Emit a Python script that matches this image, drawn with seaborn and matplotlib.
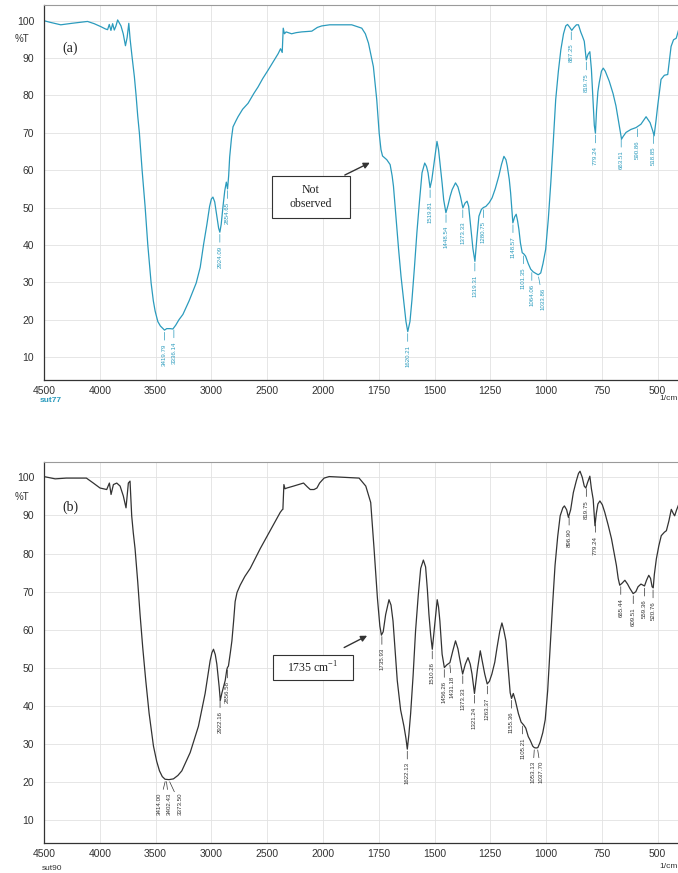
import numpy as np
import matplotlib
matplotlib.use("Agg")
import matplotlib.pyplot as plt
import seaborn as sns
from matplotlib.patches import Rectangle

# ---- spectrum (a): sut77, wavenumber (1/cm) and %T
wn_a = [4500, 4450, 4350, 4250, 4110, 4050, 3990, 3950, 3930, 3915,
        3900, 3885, 3870, 3855, 3840, 3825, 3810, 3790, 3770, 3755,
        3740, 3728, 3711, 3690, 3675, 3660, 3645, 3621, 3594, 3570,
        3540, 3520, 3504, 3480, 3457, 3420, 3400, 3370, 3345, 3320,
        3290, 3255, 3200, 3136, 3100, 3070, 3040, 3016, 3000, 2986,
        2970, 2950, 2935, 2924, 2912, 2895, 2880, 2866, 2855, 2845,
        2836, 2820, 2806, 2780, 2761, 2720, 2671, 2620, 2581, 2540,
        2491, 2440, 2401, 2380, 2365, 2356, 2345, 2330, 2281, 2240,
        2191, 2100, 2050, 2011, 1970, 1900, 1871, 1826, 1810, 1796,
        1774, 1759, 1748, 1740, 1733, 1714, 1699, 1690, 1684, 1672,
        1661, 1650, 1639, 1628, 1620, 1610, 1601, 1590, 1579, 1567,
        1556, 1544, 1536, 1529, 1520, 1512, 1504, 1495, 1489, 1482,
        1474, 1466, 1459, 1449, 1440, 1430, 1421, 1406, 1395, 1384,
        1373, 1363, 1354, 1347, 1338, 1328, 1319, 1310, 1301, 1290,
        1281, 1270, 1255, 1242, 1228, 1212, 1200, 1189, 1180, 1174,
        1165, 1159, 1149, 1141, 1134, 1128, 1122, 1115, 1107, 1100,
        1092, 1080, 1069, 1058, 1047, 1035, 1024, 1014, 1002, 990,
        979, 968, 957, 945, 934, 922, 912, 904, 895, 885,
        875, 864, 855, 845, 837, 829, 820, 812, 804, 797,
        790, 784, 779, 774, 768, 762, 752, 744, 735, 717,
        700, 687, 669, 662, 655, 642, 620, 597, 575, 552,
        534, 522, 516, 508, 500, 485, 470, 455, 440, 429,
        417, 402]
t_a = [100.0, 99.6, 98.9, 99.3, 99.8, 99.2, 98.4, 97.8, 97.6, 99.0,
       97.4, 99.2, 97.5, 98.6, 100.2, 99.4, 98.6, 96.5, 93.3, 95.5,
       99.3, 95.0, 90.4, 85.0, 80.1, 74.5, 69.9, 60.1, 50.3, 40.1,
       29.8, 25.0, 22.3, 19.5, 18.3, 17.2, 17.6, 17.6, 17.5, 18.5,
       20.0, 21.4, 25.0, 29.8, 34.0, 40.1, 45.5, 50.3, 52.3, 52.8,
       51.5, 47.5, 44.5, 43.4, 45.5, 50.5, 54.5, 56.8, 55.0, 58.5,
       63.5, 68.5, 71.6, 73.2, 74.3, 76.3, 77.9, 80.5, 82.3, 84.5,
       86.8, 89.3, 91.2, 92.5, 91.5, 98.0, 96.5, 97.0, 96.5, 96.8,
       97.0, 97.2, 98.2, 98.6, 98.9, 98.9, 98.9, 98.0, 96.5, 94.0,
       87.7, 78.9, 69.9, 65.5, 63.8, 62.8, 61.5, 58.5, 55.7, 47.0,
       38.8, 31.5, 25.4, 19.5, 16.8, 19.5, 25.4, 34.0, 43.3, 52.0,
       59.3, 61.9, 61.0, 59.3, 55.3, 57.5, 61.1, 65.0, 67.7, 65.5,
       61.1, 56.5, 52.1, 48.6, 50.5, 53.0, 54.8, 56.6, 55.5, 53.0,
       49.9, 51.2, 51.7, 50.3, 45.0, 39.0, 35.6, 42.0, 47.7, 49.5,
       50.0, 50.3, 51.3, 52.6, 55.0, 58.4, 61.5, 63.7, 62.8, 61.1,
       57.5, 53.9, 45.9, 47.5, 48.2, 46.5, 44.2, 40.5, 37.9, 37.6,
       37.0, 35.0, 33.5, 32.8, 32.4, 32.0, 32.5, 35.0, 38.8, 47.0,
       56.6, 67.5, 78.9, 86.5, 92.2, 96.5, 98.6, 99.0, 98.3, 97.4,
       98.2, 98.9, 98.9, 97.0, 95.8, 94.5, 89.5, 91.0, 91.7, 87.0,
       79.0, 72.0, 69.9, 76.0, 81.0, 83.4, 86.5, 87.3, 86.5, 83.8,
       80.5, 77.2, 70.9, 68.3, 69.0, 70.1, 70.9, 71.4, 72.3, 74.3,
       72.7, 70.5, 69.2, 73.0, 77.2, 84.3, 85.4, 85.6, 93.1, 94.9,
       95.3, 98.4]

# ---- spectrum (b): sut90
wn_b = [4500, 4400, 4300, 4120, 4058, 3998, 3938, 3914, 3899, 3878,
        3848, 3818, 3789, 3765, 3744, 3729, 3714, 3700, 3684, 3660,
        3639, 3615, 3588, 3558, 3519, 3490, 3465, 3440, 3415, 3380,
        3340, 3300, 3265, 3190, 3116, 3056, 3011, 2995, 2981, 2965,
        2951, 2930, 2920, 2905, 2876, 2862, 2856, 2847, 2830, 2816,
        2800, 2787, 2770, 2742, 2700, 2652, 2562, 2473, 2383, 2365,
        2359, 2350, 2340, 2323, 2264, 2174, 2140, 2114, 2080, 2054,
        2030, 1995, 1972, 1838, 1808, 1786, 1771, 1756, 1745, 1738,
        1730, 1719, 1704, 1695, 1686, 1676, 1667, 1652, 1637, 1628,
        1622, 1615, 1607, 1596, 1585, 1573, 1562, 1550, 1540, 1532,
        1525, 1517, 1510, 1504, 1498, 1488, 1482, 1476, 1466, 1456,
        1445, 1431, 1418, 1406, 1395, 1388, 1374, 1362, 1350, 1340,
        1332, 1321, 1308, 1295, 1285, 1275, 1264, 1254, 1243, 1230,
        1220, 1208, 1198, 1190, 1180, 1170, 1161, 1155, 1147, 1138,
        1124, 1112, 1100, 1091, 1080, 1071, 1060, 1053, 1045, 1037,
        1027, 1015, 1004, 993, 982, 971, 960, 948, 937, 925,
        918, 908, 900, 890, 878, 865, 855, 848, 838, 829,
        822, 815, 804, 797, 789, 781, 775, 768, 759, 748,
        737, 722, 707, 695, 685, 677, 670, 660, 647, 635,
        625, 610, 598, 588, 575, 565, 559, 550, 540, 532,
        525, 520, 515, 506, 495, 484, 470, 461, 450, 439,
        430, 424, 415, 405]
t_b = [100.2, 99.6, 99.8, 99.8, 98.5, 97.2, 96.8, 98.5, 95.5, 98.1,
       98.5, 97.7, 95.1, 92.0, 98.5, 99.0, 89.9, 85.5, 81.3, 72.6,
       64.0, 55.3, 46.7, 38.1, 29.5, 25.5, 23.0, 21.5, 20.8, 20.7,
       20.9, 21.8, 23.0, 27.8, 34.7, 43.3, 51.9, 54.0, 54.9, 53.5,
       51.0, 45.0, 41.5, 43.5, 46.7, 49.5, 50.1, 50.5, 54.0, 57.1,
       62.5, 67.4, 69.8, 71.7, 74.0, 76.1, 81.3, 86.0, 90.8, 91.5,
       91.6, 98.1, 97.0, 97.2, 97.7, 98.5, 97.5, 96.8, 96.8, 97.2,
       98.5, 99.8, 100.2, 99.8, 97.7, 93.4, 81.3, 68.4, 61.0, 58.6,
       59.5, 64.0, 67.9, 66.5, 62.3, 54.0, 46.7, 39.0, 34.7, 31.5,
       28.7, 32.5, 38.1, 48.0, 59.7, 69.0, 76.1, 78.3, 76.5, 70.5,
       64.0, 58.5, 54.9, 58.5, 62.3, 67.9, 66.0, 62.3, 53.6, 50.1,
       50.8, 51.4, 54.5, 57.1, 55.0, 52.7, 48.4, 51.0, 52.7, 51.0,
       48.4, 43.3, 49.5, 54.5, 51.5, 48.4, 45.8, 46.5, 48.4, 51.5,
       55.3, 59.5, 61.8, 60.0, 57.1, 50.0, 43.5, 42.0, 43.3, 41.5,
       38.0, 35.8, 35.0, 34.2, 32.0, 31.0, 29.5, 29.1, 29.0, 29.1,
       30.5, 33.0, 36.4, 44.0, 55.3, 66.5, 76.9, 84.5, 89.9, 92.0,
       92.5, 91.5, 89.5, 91.5, 96.0, 99.0, 101.0, 101.6, 100.0, 97.7,
       97.2, 98.5, 100.3, 97.0, 94.2, 87.3, 90.5, 93.0, 93.8, 92.8,
       90.8, 87.5, 83.9, 80.0, 76.9, 73.5, 71.7, 72.2, 73.0, 72.0,
       70.9, 69.5, 70.0, 71.3, 72.0, 71.7, 71.5, 73.0, 74.3, 73.5,
       71.3, 71.0, 74.5, 78.6, 82.0, 84.7, 85.6, 86.0, 88.5, 91.6,
       90.5, 89.9, 91.5, 93.0]

# peak labels printed by the instrument
peaks_a = [3419.79, 3336.14, 2924.09, 2854.65, 1620.21, 1519.81, 1448.54,
           1373.33, 1319.31, 1280.75, 1148.57, 1101.35, 1064.06, 1033.86,
           887.25, 819.75, 779.24, 663.51, 590.86, 518.85]
peaks_b = [3414.00, 3402.43, 3373.50, 2922.16, 2856.58, 1735.93, 1622.13,
           1510.26, 1456.26, 1431.18, 1373.33, 1321.24, 1263.37, 1155.36,
           1105.21, 1053.13, 1037.70, 896.90, 819.75, 779.24, 665.44,
           609.51, 559.36, 520.76]

x_major = [4500, 4000, 3500, 3000, 2500, 2000, 1750, 1500, 1250, 1000, 750, 500]

# label nudges (points) where labels crowd together
shift_a = {1033.86: 3}
shift_b = {3414.00: -4, 3402.43: 2, 3373.50: 7.5, 1053.13: -1, 1037.70: 2.5, 1431.18: 1.5}

TEAL = "#2b9bbd"
DARK = "#333333"

sns.set_style("white")
plt.rcParams["font.family"] = ["Liberation Sans", "DejaVu Sans"]
SERIF = ["Liberation Serif", "DejaVu Serif"]


# instrument axis: scale doubles below 2000 1/cm
def fwd(x):
    x = np.asarray(x, dtype=float)
    return np.where(x >= 2000, x, 2 * x - 2000)


def inv(p):
    p = np.asarray(p, dtype=float)
    return np.where(p >= 2000, p, (p + 2000) / 2)


def draw_panel(ax, wn, t, peaks, shifts, color, ylim):
    sns.lineplot(x=wn, y=t, ax=ax, color=color, lw=0.9, sort=False, estimator=None)
    ax.set_xscale("function", functions=(fwd, inv))
    ax.set_xlim(4500, 400)
    ax.set_ylim(*ylim)
    ax.set_xticks(x_major)
    ax.set_xticklabels([str(v) for v in x_major])
    minor = [v for v in range(4400, 2000, -100) if v % 500] + \
            [v for v in range(1950, 400, -50) if v % 250]
    ax.set_xticks(minor, minor=True)
    ax.set_yticks(range(10, 101, 10))
    ax.set_yticks([v for v in range(4, 105, 2) if v % 10], minor=True)
    ax.tick_params(axis="x", which="major", direction="inout", length=6, width=0.8,
                   pad=1, labelsize=7.5, colors=DARK)
    ax.tick_params(axis="x", which="minor", direction="inout", length=3.5, width=0.6, colors=DARK)
    ax.tick_params(axis="y", which="major", direction="out", length=6, width=0.8,
                   pad=1, labelsize=7.5, colors=DARK)
    ax.tick_params(axis="y", which="minor", direction="out", length=3, width=0.6, colors=DARK)
    ax.grid(True, which="major", color="#e2e2e2", lw=0.6)
    ax.set_axisbelow(True)
    ax.spines["right"].set_visible(False)
    ax.spines["top"].set_color("#9a9a9a")
    ax.spines["top"].set_linewidth(0.8)
    for s in ("left", "bottom"):
        ax.spines[s].set_color(DARK)
        ax.spines[s].set_linewidth(0.9)
    ax.set_xlabel("")
    ax.set_ylabel("")

    # peak labels hanging under the curve
    xs = np.array(wn)[::-1]
    ys = np.array(t)[::-1]
    for p in peaks:
        yv = np.interp(p, xs, ys)
        ax.annotate(f"{p:.2f}", xy=(p, yv - 0.6), xytext=(shifts.get(p, 0), -8),
                    textcoords="offset points", rotation=90, ha="center", va="top",
                    fontsize=4.4, color=color,
                    arrowprops=dict(arrowstyle="-", lw=0.5, color=color,
                                    shrinkA=0, shrinkB=0))


fig = plt.figure(figsize=(6.78, 8.73), dpi=100)
W, H = 678, 873

ax_a = fig.add_axes([44 / W, 1 - 380 / H, 636 / W, 375 / H])
ax_b = fig.add_axes([44 / W, 1 - 843.3 / H, 636 / W, 381.6 / H])

draw_panel(ax_a, wn_a, t_a, peaks_a, shift_a, TEAL, (3.85, 104.2))
draw_panel(ax_b, wn_b, t_b, peaks_b, shift_b, DARK, (5.26, 104.1))

# boxed notes with arrows
ax_a.add_patch(Rectangle((0.3585, 0.432), 0.1226, 0.112, transform=ax_a.transAxes,
                         fc="white", ec=DARK, lw=0.8, zorder=5))
ax_a.text(0.4198, 0.488, "Not\nobserved", transform=ax_a.transAxes, ha="center",
          va="center", fontsize=8.5, family=SERIF, linespacing=1.15, zorder=6, color="#222")
ax_a.annotate("", xy=(1790, 62.0), xytext=(1902, 58.7),
              arrowprops=dict(arrowstyle="-|>", color=DARK, lw=1.0, mutation_scale=9,
                              shrinkA=0, shrinkB=0))

ax_b.add_patch(Rectangle((0.360, 0.428), 0.1258, 0.0655, transform=ax_b.transAxes,
                         fc="white", ec=DARK, lw=0.8, zorder=5))
ax_b.text(0.423, 0.4607, "1735 cm$^{\\mathregular{-1}}$", transform=ax_b.transAxes,
          ha="center", va="center", fontsize=8.5, family=SERIF, zorder=6, color="#222")
ax_b.annotate("", xy=(1802, 58.45), xytext=(1905, 55.35),
              arrowprops=dict(arrowstyle="-|>", color=DARK, lw=1.0, mutation_scale=9,
                              shrinkA=0, shrinkB=0))

# panel texts
fig.text(15 / W, 1 - 39 / H, "%T", fontsize=7, color=DARK, va="center", ha="left")
fig.text(15 / W, 1 - 497 / H, "%T", fontsize=7, color=DARK, va="center", ha="left")
fig.text(62 / W, 1 - 48 / H, "(a)", fontsize=10, family=SERIF, color="#222", va="center")
fig.text(62 / W, 1 - 507 / H, "(b)", fontsize=10, family=SERIF, color="#222", va="center")
fig.text(40 / W, 1 - 401 / H, "sut77", fontsize=6, color=TEAL, va="center", fontweight="bold")
fig.text(42 / W, 1 - 868 / H, "sut90", fontsize=6, color=DARK, va="center")
fig.text(1.0, 1 - 399 / H, "1/cm", fontsize=6, color=DARK, va="center", ha="right")
fig.text(1.0, 1 - 866 / H, "1/cm", fontsize=6, color=DARK, va="center", ha="right")

fig.savefig("out.png", dpi=100)
